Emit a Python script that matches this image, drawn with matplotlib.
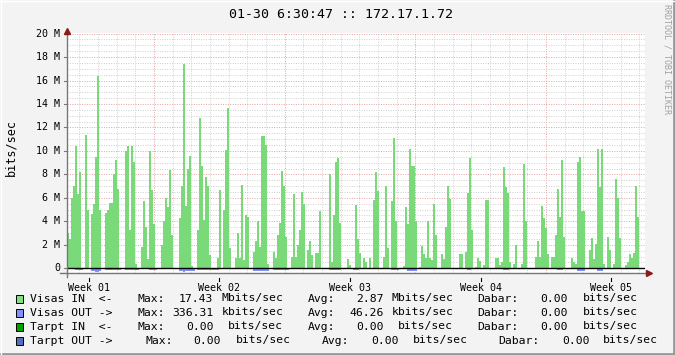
import numpy as np
import matplotlib
matplotlib.use('Agg')
import matplotlib.pyplot as plt
from matplotlib.lines import Line2D
from matplotlib.patches import Rectangle

"""
Data (read off the picture)
"""
# Visas IN, Mbits/sec, one value per ~2.6 h step, starting at the left edge
visas_in = [
    3.0, 2.5, 6.0, 7.0, 10.4, 6.3, 8.2, 0, 0, 11.4,
    5.0, 0, 4.6, 5.5, 9.5, 16.4, 5.0, 0, 0, 4.7,
    5.0, 5.6, 5.6, 8.0, 9.2, 6.8, 0, 0, 0, 10.0,
    10.4, 3.3, 10.4, 9.1, 0.4, 0, 0, 1.8, 5.7, 3.5,
    0.8, 10.0, 6.7, 3.8, 0, 0, 0, 2.0, 4.0, 6.0,
    5.2, 8.4, 2.8, 0, 0, 0, 4.3, 7.0, 17.43, 5.3,
    8.5, 9.6, 0.2, 0, 0, 3.3, 12.8, 8.7, 4.1, 7.8,
    7.0, 1.1, 0, 0, 0, 0.9, 6.7, 0, 5.0, 10.1,
    13.7, 1.7, 0, 0, 0.9, 3.0, 0.9, 7.1, 0.7, 4.5,
    4.4, 0, 0, 1.4, 2.3, 4.0, 1.8, 11.3, 11.3, 10.5,
    0.4, 0, 0, 1.4, 0.9, 2.8, 3.9, 8.3, 7.0, 2.7,
    0, 0, 1.0, 6.3, 1.0, 2.0, 3.3, 6.5, 5.5, 0,
    1.6, 2.3, 1.1, 0, 1.3, 1.3, 4.9, 0, 0, 0,
    0, 8.0, 0.5, 4.5, 9.1, 9.4, 3.9, 0, 0, 0,
    0.8, 0.3, 0, 0, 5.4, 2.5, 1.3, 0, 0.9, 0.5,
    0, 0.9, 0, 5.8, 8.2, 6.6, 0, 0, 1.0, 7.0,
    1.7, 0, 5.7, 11.1, 4.0, 0, 0, 0, 0.2, 5.2,
    3.8, 10.2, 8.7, 8.7, 4.0, 0, 0.1, 1.9, 1.2, 0.9,
    4.0, 0.9, 0.7, 5.5, 2.8, 0, 0, 1.2, 0.8, 3.5,
    7.0, 5.9, 0, 0, 0, 0, 1.2, 1.2, 0, 1.4,
    6.4, 9.4, 3.3, 0, 0.1, 0.9, 0.6, 0, 0.3, 5.8,
    5.8, 0, 0, 0, 0.9, 0.9, 0.3, 0.5, 8.6, 6.9,
    6.4, 0.5, 0, 0.4, 2.0, 0, 0, 0.4, 8.9, 4.0,
    0, 0, 0, 0, 1.0, 2.3, 1.0, 5.3, 4.3, 3.4,
    1.2, 0, 1.0, 1.0, 2.8, 6.8, 4.4, 9.2, 2.7, 0,
    0, 0, 0.9, 0.5, 0.4, 9.1, 9.5, 4.9, 4.9, 0,
    0, 1.6, 2.6, 0.8, 2.1, 10.2, 6.9, 10.2, 0.4, 0,
    2.7, 1.6, 0, 0.4, 7.6, 6.0, 2.6, 0, 0, 0.3,
    0.5, 1.2, 0.9, 1.3, 7.0, 4.4, 0, 0, 0,
]

# Visas OUT drawn below zero: (first step, last step, Mbits/sec)
visas_out_runs = [
    (0, 2, -0.10), (4, 7, -0.15), (12, 13, -0.25), (14, 15, -0.30), (16, 16, -0.25),
    (19, 26, -0.15), (29, 35, -0.17), (41, 44, -0.17), (56, 57, -0.25),
    (58, 58, -0.34), (59, 63, -0.25), (65, 75, -0.15), (79, 81, -0.10),
    (89, 90, -0.10), (93, 100, -0.20), (103, 110, -0.15), (115, 118, -0.10),
    (125, 127, -0.10), (131, 136, -0.17), (143, 145, -0.15), (153, 155, -0.10),
    (158, 160, -0.10), (162, 165, -0.15), (170, 174, -0.20), (180, 184, -0.10),
    (190, 191, -0.10), (200, 201, -0.15), (218, 220, -0.15), (226, 228, -0.10),
    (237, 239, -0.10), (245, 247, -0.15), (255, 258, -0.20), (265, 267, -0.20),
    (274, 276, -0.10), (283, 285, -0.10),
]

week_labels = ['Week 01', 'Week 02', 'Week 03', 'Week 04', 'Week 05']
y_ticks = [0, 2, 4, 6, 8, 10, 12, 14, 16, 18, 20]
y_tick_labels = ['0', '2 M', '4 M', '6 M', '8 M', '10 M', '12 M', '14 M', '16 M', '18 M', '20 M']

legend_rows = [
    ('Visas IN  <-', '#80e080', [('Max:', 138), ('17.43', 178.6), ('Mbits/sec', 221.7), ('Avg:', 308), ('2.87', 356), ('Mbits/sec', 391.7), ('Dabar:', 477), ('0.00', 540), ('bits/sec', 582.4)]),
    ('Visas OUT ->', '#8090ff', [('Max:', 138), ('336.31', 172), ('kbits/sec', 221.7), ('Avg:', 308), ('46.26', 349.5), ('kbits/sec', 391.7), ('Dabar:', 477), ('0.00', 540), ('bits/sec', 582.4)]),
    ('Tarpt IN  <-', '#00a000', [('Max:', 138), ('0.00', 186), ('bits/sec', 228), ('Avg:', 308), ('0.00', 356.4), ('bits/sec', 398), ('Dabar:', 477), ('0.00', 540), ('bits/sec', 582.4)]),
    ('Tarpt OUT ->', '#5070c0', [('Max:', 145), ('0.00', 193.7), ('bits/sec', 235.5), ('Avg:', 322), ('0.00', 371), ('bits/sec', 412.4), ('Dabar:', 498.5), ('0.00', 561.8), ('bits/sec', 602.7)]),
]

"""
Layout settings
"""
W, H = 675, 355
step_days = 2 / 18.67          # width of one data step
x_span = 578 / 18.67           # days shown
first_week = 4.66              # first week boundary (days from left edge)
mono = 'DejaVu Sans Mono'

def fx(x):
    return x / W

def fy(y):
    return 1 - y / H

visas_out = np.zeros(len(visas_in))
for a, b, v in visas_out_runs:
    visas_out[a:b + 1] = v

edges = np.arange(len(visas_in) + 1) * step_days

fig = plt.figure(figsize=(W / 100, H / 100), dpi=100, facecolor='#f3f3f3')
ax = fig.add_axes([fx(67), fy(273), 578 / W, 240 / H])
ax.set_facecolor('white')
ax.set_xlim(0, x_span)
ax.set_ylim(-0.4, 20.05)
for s in ax.spines.values():
    s.set_visible(False)
ax.set_xticks([])
ax.set_yticks([])

# grid
for yv in np.arange(0.5, 20.01, 0.5):
    if abs(yv / 2 - round(yv / 2)) < 1e-6:
        ax.axhline(yv, color='#e6a0a0', lw=0.7, ls=(0, (1, 1.5)), zorder=1)
    else:
        ax.axhline(yv, color='#cfcfcf', lw=0.7, ls=(0, (1, 1.5)), zorder=1)
days = np.arange(first_week - 5, x_span, 1.0)
for d in days:
    if d <= 0:
        continue
    if abs((d - first_week) / 7 - round((d - first_week) / 7)) < 1e-6:
        ax.axvline(d, color='#e6a0a0', lw=0.7, ls=(0, (1, 1.5)), zorder=1)
    else:
        ax.axvline(d, color='#cfcfcf', lw=0.7, ls=(0, (1, 1.5)), zorder=1)

# data
ax.stairs(visas_in, edges, baseline=0, fill=True, color='#7ada7a', lw=0, zorder=2)
ax.stairs(visas_out, edges, baseline=0, fill=True, color='#8090ff', lw=0, zorder=2)
ax.axhline(0, color='black', lw=1.0, zorder=3)

# axes lines with arrows
fig.add_artist(Line2D([fx(67), fx(67)], [fy(277), fy(31)], color='#777777', lw=1.0))
fig.add_artist(Line2D([fx(60), fx(648)], [fy(273), fy(273)], color='#777777', lw=1.0))
fig.add_artist(Line2D([fx(67)], [fy(31)], marker='^', color='#8b1a1a', ms=4, lw=0))
fig.add_artist(Line2D([fx(649)], [fy(273)], marker='>', color='#8b1a1a', ms=4, lw=0))

# y tick labels
for v, lab in zip(y_ticks, y_tick_labels):
    ax.text(-0.012, v, lab, transform=ax.get_yaxis_transform(), ha='right', va='center',
            fontsize=7.2, family=mono, color='black')
    ax.plot([-0.006, 0], [v, v], transform=ax.get_yaxis_transform(), color='#777777',
            lw=0.8, clip_on=False)

# week labels
for i, lab in enumerate(week_labels):
    c = first_week - 3.5 + 7 * i
    ax.text(c, -0.062, lab, transform=ax.get_xaxis_transform(), ha='center', va='center',
            fontsize=7.2, family=mono, color='black')
    ax.plot([c, c], [-0.02, -0.035], transform=ax.get_xaxis_transform(), color='black',
            lw=0.8, clip_on=False)

# titles
fig.text(fx(341), fy(15), '01-30 6:30:47 :: 172.17.1.72', ha='center', va='center',
         fontsize=9.5, family=mono)
fig.text(fx(11), fy(147), 'bits/sec', ha='center', va='center', rotation=90,
         fontsize=8.5, family=mono)
fig.text(fx(667), fy(4), 'RRDTOOL / TOBI OETIKER', ha='center', va='top', rotation=-90,
         fontsize=6, family=mono, color='#a0a0a0')

# legend
row_y = [298.5, 312.5, 326.5, 340.5]
for (name, col, parts), yy in zip(legend_rows, row_y):
    fig.add_artist(Rectangle((fx(15.5), fy(yy + 4)), 7 / W, 8 / H, facecolor=col,
                             edgecolor='black', lw=0.7))
    fig.text(fx(30), fy(yy), name, ha='left', va='center', fontsize=8.2, family=mono)
    for txt, xx in parts:
        fig.text(fx(xx), fy(yy), txt, ha='left', va='center', fontsize=8.2, family=mono)

# frame
fig.add_artist(Line2D([fx(674), fx(674)], [fy(0), fy(355)], color='#999999', lw=2))
fig.add_artist(Line2D([fx(0), fx(675)], [fy(354), fy(354)], color='#999999', lw=2))
fig.add_artist(Line2D([fx(0.5), fx(0.5)], [fy(0), fy(355)], color='#ffffff', lw=1))
fig.add_artist(Line2D([fx(0), fx(675)], [fy(0.5), fy(0.5)], color='#ffffff', lw=1))

plt.savefig('out.png', dpi=100, facecolor=fig.get_facecolor())
